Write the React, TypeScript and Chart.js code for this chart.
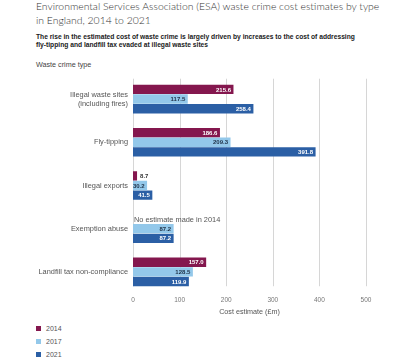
import React, { useEffect, useRef } from "react";
import { Chart, registerables } from "chart.js";

Chart.register(...registerables);

const categories: (string | string[])[] = [
  ["Illegal waste sites", "(including fires)"],
  "Fly-tipping",
  "Illegal exports",
  "Exemption abuse",
  "Landfill tax non-compliance",
];
const seriesNames = ["2014", "2017", "2021"];
const values2014: (number | null)[] = [215.6, 186.6, 8.7, null, 157.0];
const values2017: (number | null)[] = [117.5, 209.3, 30.2, 87.2, 128.5];
const values2021: (number | null)[] = [258.4, 391.8, 41.5, 87.2, 119.9];
const xTicks = [0, 100, 200, 300, 400, 500];
const missingNote = "No estimate made in 2014";

const COLORS = ["#84174e", "#93c8ea", "#2b5fa5"];
const LABEL_COLORS = ["#ffffff", "#1d2f45", "#ffffff"];
const FONT = "'Liberation Sans', Arial, sans-serif";

export default function App() {
  const canvasRef = useRef<HTMLCanvasElement | null>(null);

  useEffect(() => {
    if (!canvasRef.current) return;

    const gridPlugin = {
      id: "customGrid",
      beforeDatasetsDraw(chart: any) {
        const ctx = chart.ctx;
        const xs = chart.scales.x;
        const m0 = chart.getDatasetMeta(0);
        const m2 = chart.getDatasetMeta(2);
        const first = m0.data[0] as any;
        const last = m2.data[m2.data.length - 1] as any;
        const top = first.y - first.height / 2 - 6;
        const bottom = last.y + last.height / 2;
        ctx.save();
        ctx.strokeStyle = "#d6d6d6";
        ctx.lineWidth = 1;
        xTicks.forEach((v) => {
          const x = Math.round(xs.getPixelForValue(v)) + 0.5;
          ctx.beginPath();
          ctx.moveTo(x, top);
          ctx.lineTo(x, bottom);
          ctx.stroke();
        });
        ctx.restore();
      },
    };

    const labelPlugin = {
      id: "barLabels",
      afterDatasetsDraw(chart: any) {
        const ctx = chart.ctx;
        const xs = chart.scales.x;
        ctx.save();
        ctx.font = `bold 6px ${FONT}`;
        ctx.textBaseline = "middle";
        chart.data.datasets.forEach((ds: any, di: number) => {
          const meta = chart.getDatasetMeta(di);
          meta.data.forEach((bar: any, i: number) => {
            const v = ds.data[i];
            if (v === null || v === undefined) return;
            const txt = Number(v).toFixed(1);
            if (v < 20) {
              ctx.fillStyle = "#333333";
              ctx.textAlign = "left";
              ctx.fillText(txt, bar.x + 3, bar.y + 0.5);
            } else {
              ctx.fillStyle = LABEL_COLORS[di];
              ctx.textAlign = "right";
              ctx.fillText(txt, bar.x - 2.5, bar.y + 0.5);
            }
          });
        });
        const m1 = chart.getDatasetMeta(1);
        const m2 = chart.getDatasetMeta(2);
        chart.data.datasets[0].data.forEach((v: any, i: number) => {
          if (v !== null && v !== undefined) return;
          const b1 = m1.data[i] as any;
          const b2 = m2.data[i] as any;
          const y = b1.y - (b2.y - b1.y);
          ctx.font = `7.4px ${FONT}`;
          ctx.fillStyle = "#555555";
          ctx.textAlign = "left";
          ctx.fillText(missingNote, xs.getPixelForValue(0) + 1, y + 0.5);
        });
        ctx.restore();
      },
    };

    const chart = new Chart(canvasRef.current, {
      type: "bar",
      data: {
        labels: categories,
        datasets: [values2014, values2017, values2021].map((d, i) => ({
          label: seriesNames[i],
          data: d,
          backgroundColor: COLORS[i],
          borderWidth: 0,
          barPercentage: 0.97,
          categoryPercentage: 0.67,
        })),
      },
      options: {
        indexAxis: "y",
        animation: false,
        responsive: true,
        maintainAspectRatio: false,
        layout: { padding: { top: 4.5, right: 31, left: 0, bottom: 0 } },
        plugins: {
          legend: { display: false },
          tooltip: { enabled: false },
        },
        scales: {
          x: {
            min: 0,
            max: 500,
            grid: { display: false, drawTicks: false },
            border: { display: false },
            ticks: {
              stepSize: 100,
              color: "#777777",
              font: { family: FONT, size: 6.5 },
              padding: 2.5,
            },
            title: {
              display: true,
              text: "Cost estimate (£m)",
              color: "#555555",
              font: { family: FONT, size: 7.2 },
              padding: { top: 3, bottom: 2 },
            },
            afterFit: (scale: any) => {
              scale.height = 24.5;
            },
          } as any,
          y: {
            grid: { display: false, drawTicks: false },
            border: { display: false },
            ticks: {
              color: "#555555",
              font: { family: FONT, size: 7.4, lineHeight: 1.2 },
              padding: 5,
            },
            afterFit: (scale: any) => {
              scale.width = 133;
            },
          } as any,
        },
      },
      plugins: [gridPlugin, labelPlugin],
    });

    return () => chart.destroy();
  }, []);

  const legendTop = [328, 341.5, 354];

  return (
    <div
      style={{
        position: "absolute",
        left: 0,
        top: 0,
        width: 397,
        height: 359,
        background: "#ffffff",
        fontFamily: FONT,
        overflow: "hidden",
      }}
    >
      <div
        style={{
          position: "absolute",
          left: 36,
          top: 0,
          width: 361,
          fontFamily: "Lato, 'Liberation Sans', sans-serif",
          fontWeight: 300,
          fontSize: 10.4,
          lineHeight: "13.5px",
          color: "#333333",
          whiteSpace: "nowrap",
        }}
      >
        Environmental Services Association (ESA) waste crime cost estimates by type
        <br />
        in England, 2014 to 2021
      </div>
      <div
        style={{
          position: "absolute",
          left: 36,
          top: 33,
          width: 361,
          fontWeight: "bold",
          fontSize: 6.7,
          lineHeight: "8px",
          color: "#1a1a1a",
          whiteSpace: "nowrap",
        }}
      >
        The rise in the estimated cost of waste crime is largely driven by increases to the cost of addressing
        <br />
        fly-tipping and landfill tax evaded at illegal waste sites
      </div>
      <div
        style={{
          position: "absolute",
          left: 36,
          top: 59.5,
          fontSize: 7.2,
          color: "#444444",
        }}
      >
        Waste crime type
      </div>
      <div style={{ position: "absolute", left: 0, top: 68, width: 397, height: 250 }}>
        <canvas ref={canvasRef} />
      </div>
      {seriesNames.map((name, i) => (
        <div
          key={name}
          style={{
            position: "absolute",
            left: 36,
            top: legendTop[i] - 5,
            height: 10,
            display: "flex",
            alignItems: "center",
            fontSize: 7,
            color: "#555555",
          }}
        >
          <span
            style={{
              display: "inline-block",
              width: 5,
              height: 5,
              background: COLORS[i],
              marginRight: 5,
            }}
          />
          {name}
        </div>
      ))}
    </div>
  );
}
